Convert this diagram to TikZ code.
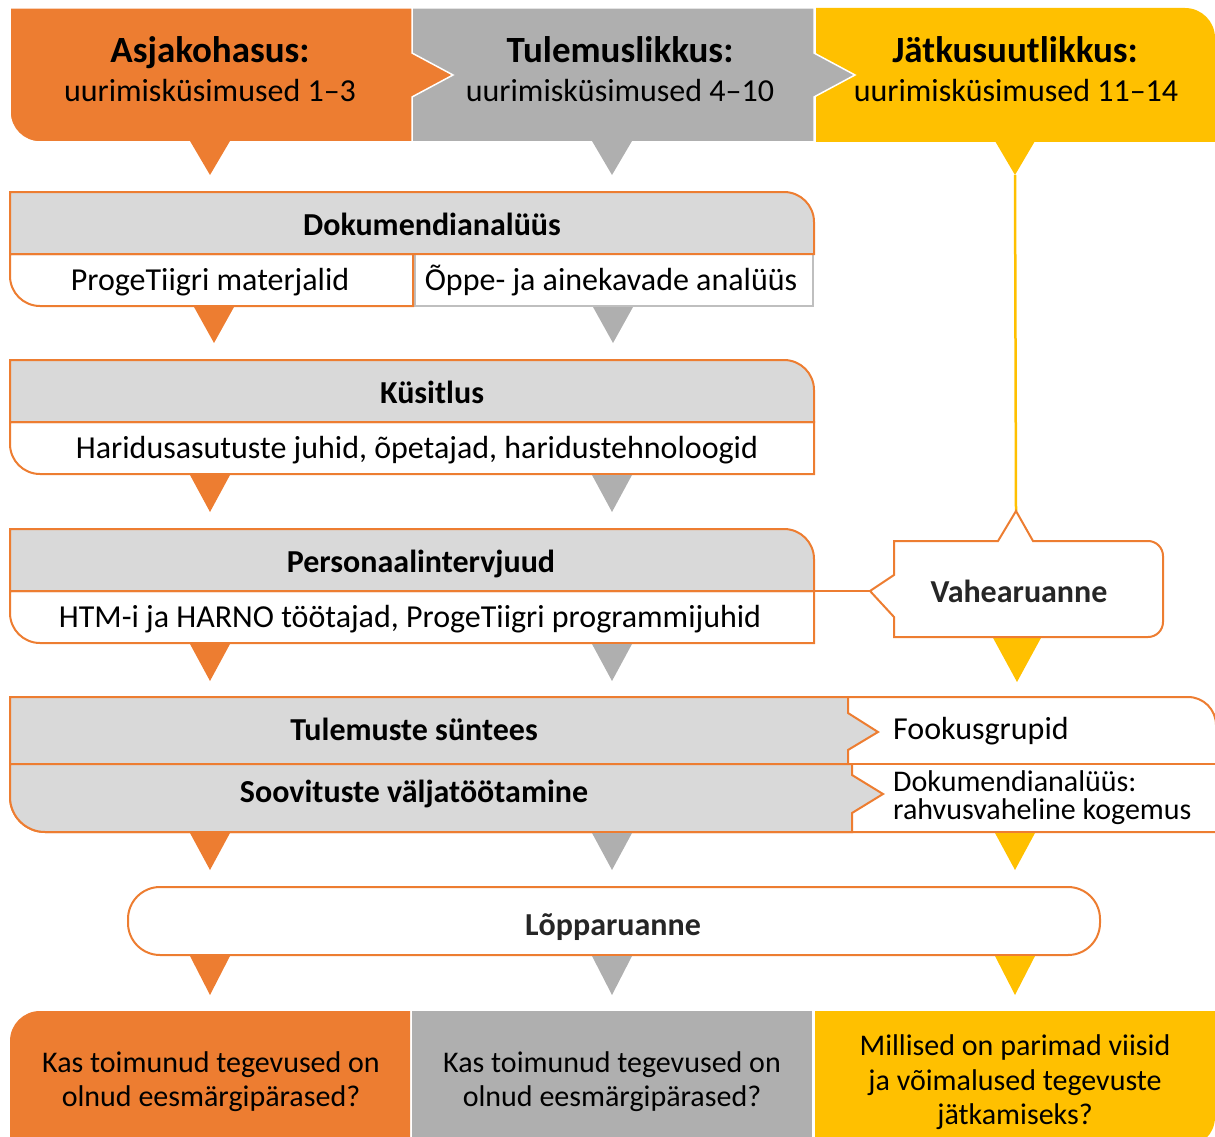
\documentclass[tikz,border=0pt]{standalone}
\usepackage{fontspec}
\setmainfont{Carlito}
\definecolor{orng}{HTML}{ED7D31}
\definecolor{gry}{HTML}{AFAFAF}
\definecolor{yel}{HTML}{FFC000}
\definecolor{lgry}{HTML}{D9D9D9}
\definecolor{cellgry}{HTML}{BFBFBF}
\definecolor{dtxt}{HTML}{262626}
\newcommand\fhead{\fontsize{37}{44}\selectfont\bfseries}
\newcommand\fbody{\fontsize{32}{38}\selectfont}
\newcommand\fbold{\fontsize{32}{38}\selectfont\bfseries}
\newcommand\fbot{\fontsize{30}{35}\selectfont}
\newcommand\ptr[4]{\fill[#4] (#1-20,#2) -- (#1+20,#2) -- (#1,#2+#3) -- cycle;}
\begin{document}
\begin{tikzpicture}[x=1pt,y=-1pt,
  ob/.style={draw=orng,line width=2},
  txt/.style={inner sep=0,anchor=base,text=black},
  txtl/.style={inner sep=0,anchor=base west,text=black}]
\useasboundingbox (0,0) rectangle (1215,1137);
\clip (0,0) rectangle (1215,1137);

% ---------- top banners ----------
\fill[yel] (816,8) -- (1185,8) .. controls (1201.6,8) and (1215,21.4) .. (1215,38) -- (1215,142) -- (816,142) -- cycle;
\filldraw[fill=gry,draw=white,line width=1.5] (412,8) -- (814,8) -- (814,53) -- (855,75) -- (814,97) -- (814,142) -- (412,142) -- cycle;
\filldraw[fill=orng,draw=white,line width=1.5] (10,8) -- (412,8) -- (412,53) -- (453,75) -- (412,97) -- (412,142) -- (40,142) .. controls (23.4,142) and (10,128.6) .. (10,112) -- cycle;
\ptr{210}{141}{34}{orng}
\ptr{612}{141}{34}{gry}
\ptr{1015}{141}{34}{yel}
\node[txt] (h1a) at (210,63) {\fhead Asjakohasus:};
\node[txt] (h1b) at (210,102) {\fbody uurimisküsimused 1–3};
\node[txt] (h2a) at (620,63) {\fhead Tulemuslikkus:};
\node[txt] (h2b) at (620,102) {\fbody uurimisküsimused 4–10};
\node[txt] (h3a) at (1015,63) {\fhead Jätkusuutlikkus:};
\node[txt] (h3b) at (1016,102) {\fbody uurimisküsimused 11–14};

% yellow connector
\coordinate (ytip) at (1015,175);
\coordinate (vtop) at (1016,511);
\draw[yel,line width=2.5] (ytip) -- (vtop);

% ---------- Dokumendianalüüs ----------
\filldraw[fill=white,draw=cellgry,line width=2] (415,254) rectangle (813,306);
\filldraw[fill=white,ob] (10,254) -- (413,254) -- (413,306) -- (40,306) .. controls (23.4,306) and (10,292.6) .. (10,276) -- cycle;
\filldraw[fill=lgry,ob] (10,192) -- (784,192) .. controls (800.6,192) and (814,205.4) .. (814,222) -- (814,254) -- (10,254) -- cycle;
\node[txt] (d0) at (432,235) {\fbold Dokumendianalüüs};
\node[txt] (d1) at (210,290) {\fbody ProgeTiigri materjalid};
\node[txt] (d2) at (611,290) {\fbody Õppe- ja ainekavade analüüs};
\ptr{214}{307}{36}{orng}
\ptr{613}{307}{36}{gry}

% ---------- Küsitlus ----------
\filldraw[fill=white,ob] (10,422) -- (814,422) -- (814,474) -- (40,474) .. controls (23.4,474) and (10,460.6) .. (10,444) -- cycle;
\filldraw[fill=lgry,ob] (10,360) -- (784,360) .. controls (800.6,360) and (814,373.4) .. (814,390) -- (814,422) -- (10,422) -- cycle;
\node[txt] (k0) at (432,403) {\fbold Küsitlus};
\node[txt] (k1) at (417,458) {\fbody Haridusasutuste juhid, õpetajad, haridustehnoloogid};
\ptr{210}{475}{37}{orng}
\ptr{612}{475}{37}{gry}

% ---------- Personaalintervjuud ----------
\filldraw[fill=white,ob] (10,591) -- (814,591) -- (814,643) -- (40,643) .. controls (23.4,643) and (10,629.6) .. (10,613) -- cycle;
\filldraw[fill=lgry,ob] (10,529) -- (784,529) .. controls (800.6,529) and (814,542.4) .. (814,559) -- (814,591) -- (10,591) -- cycle;
\node[txt] (p0) at (421,572) {\fbold Personaalintervjuud};
\node[txt] (p1) at (410,627) {\fbody HTM-i ja HARNO töötajad, ProgeTiigri programmijuhid};
\ptr{210}{644}{37}{orng}
\ptr{612}{644}{37}{gry}

% ---------- Vahearuanne ----------
\fill[yel] (992,636) -- (1042,636) -- (1017,682) -- cycle;
\coordinate (pdiv) at (814,591);
\coordinate (vleft) at (870,591);
\draw[orng,line width=2] (pdiv) -- (vleft);
\filldraw[fill=white,ob] (894,541) -- (998,541) -- (vtop) -- (1033,541) -- (1148,541) .. controls (1156.3,541) and (1163,547.7) .. (1163,556) -- (1163,622) .. controls (1163,630.3) and (1156.3,637) .. (1148,637) -- (894,637) -- (894,617) -- (vleft) -- (894,575) -- cycle;
\node[txt,text=dtxt] (v0) at (1019,602) {\fbold Vahearuanne};

% ---------- Synthesis ----------
\filldraw[fill=white,ob] (10,697) -- (1188,697) .. controls (1203.5,697) and (1216,709.5) .. (1216,725) -- (1216,832) -- (45,832) .. controls (25.7,832) and (10,816.3) .. (10,797) -- cycle;
\draw[orng,line width=2] (848,764) -- (1216,764);
\filldraw[fill=lgry,ob] (10,697) -- (848,697) -- (848,713) -- (878,732) -- (848,750) -- (848,764) -- (10,764) -- cycle;
\filldraw[fill=lgry,ob] (10,764) -- (852,764) -- (852,775) -- (883,794) -- (852,813) -- (852,832) -- (45,832) .. controls (25.7,832) and (10,816.3) .. (10,797) -- cycle;
\node[txt] (s1) at (414,740) {\fbold Tulemuste süntees};
\node[txt] (s2) at (414,802) {\fbold Soovituste väljatöötamine};
\node[txtl] (f1) at (893,739) {\fbody Fookusgrupid};
\node[inner sep=0,anchor=west,align=left,text=black,font=\fontsize{30}{28}\selectfont] (f2) at (893,798) {Dokumendianalüüs:\\rahvusvaheline kogemus};
\ptr{210}{833}{37}{orng}
\ptr{612}{833}{37}{gry}
\ptr{1015}{833}{37}{yel}

% ---------- Lõpparuanne ----------
\draw[ob,fill=white,rounded corners=32] (128,887) rectangle (1100,955);
\node[txt,text=dtxt] (l0) at (613,935) {\fbold Lõpparuanne};
\ptr{210}{956}{39}{orng}
\ptr{612}{956}{39}{gry}
\ptr{1015}{956}{39}{yel}

% ---------- bottom boxes ----------
\fill[orng] (10,1041) .. controls (10,1024.4) and (23.4,1011) .. (40,1011) -- (410,1011) -- (410,1150) -- (10,1150) -- cycle;
\fill[gry] (412,1011) rectangle (812,1150);
\fill[yel] (815,1011) -- (1215,1011) -- (1215,1117) .. controls (1215,1133.6) and (1201.6,1147) .. (1185,1147) -- (815,1147) -- cycle;
\node[txt] (o1) at (211,1072) {\fbot Kas toimunud tegevused on};
\node[txt] (o2) at (211,1106) {\fbot olnud eesmärgipärased?};
\node[txt] (g1) at (612,1072) {\fbot Kas toimunud tegevused on};
\node[txt] (g2) at (612,1106) {\fbot olnud eesmärgipärased?};
\node[txt] (y1) at (1015,1055) {\fbot Millised on parimad viisid};
\node[txt] (y2) at (1015,1090) {\fbot ja võimalused tegevuste};
\node[txt] (y3) at (1015,1124) {\fbot jätkamiseks?};
\end{tikzpicture}
\end{document}
